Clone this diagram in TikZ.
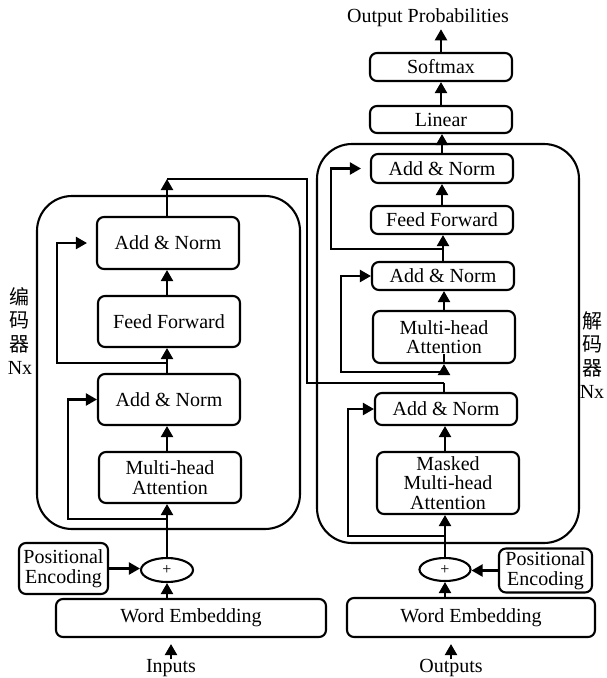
\documentclass[tikz,border=0pt]{standalone}
\usepackage{fontspec}
\setmainfont{Liberation Serif}
\newfontfamily\cjk{Noto Sans CJK SC}
\usetikzlibrary{arrows.meta,shapes.geometric}
\begin{document}
\begin{tikzpicture}[x=1pt,y=-1pt,
  lw/.style={line width=2.1pt},
  box/.style={draw,lw,rounded corners=7pt,inner sep=0pt,align=center,font=\fontsize{20}{19.5}\selectfont,minimum width=142pt},
  frame/.style={draw,lw,rounded corners=35pt,inner sep=0pt},
  conn/.style={lw,-{Triangle[length=11pt,width=12pt]}},
  lbl/.style={font=\fontsize{20}{20}\selectfont,inner sep=0pt},
  sidelbl/.style={font=\fontsize{20}{23.5}\selectfont,align=center,inner sep=0pt},
  plus/.style={draw,lw,ellipse,inner sep=0pt,minimum width=52pt,minimum height=24pt,font=\fontsize{16}{16}\selectfont}
]
\useasboundingbox (0,0) rectangle (606,678);

% frames
\node[frame,minimum width=263pt,minimum height=333pt] (encF) at (168.5,362.5) {};
\node[frame,minimum width=262pt,minimum height=399pt] (decF) at (448,343.5) {};

% encoder
\node[box,minimum height=52pt] (eAN2) at (168,243) {Add \& Norm};
\node[box,minimum height=51pt] (eFF) at (169,321.5) {Feed Forward};
\node[box,minimum height=51pt] (eAN1) at (169,399.5) {Add \& Norm};
\node[box,minimum height=51pt] (eMHA) at (170,477.5) {Multi-head\\Attention};
\node[plus] (eplus) at (167,570) {+};
\node[box,minimum width=89pt,minimum height=51pt] (ePE) at (63.5,568.5) {Positional\\Encoding};
\node[box,minimum width=270pt,minimum height=38pt] (eWE) at (191,618) {Word Embedding};
\node[lbl] (inp) at (171,668) {Inputs};
\node[sidelbl] (encL) at (20,331) {{\cjk 编}\\{\cjk 码}\\{\cjk 器}\\Nx};

% decoder
\node[lbl] (op) at (428,18) {Output Probabilities};
\node[box,minimum height=28pt] (dSM) at (441,67) {Softmax};
\node[box,minimum height=27pt] (dLin) at (441,119.5) {Linear};
\node[box,minimum height=29pt] (dAN3) at (442,168.5) {Add \& Norm};
\node[box,minimum height=28pt] (dFF) at (442,220) {Feed Forward};
\node[box,minimum height=28pt] (dAN2) at (443,276) {Add \& Norm};
\node[box,minimum height=52pt] (dMHA) at (444,337) {Multi-head\\Attention};
\node[box,minimum height=32pt] (dAN1) at (446,409) {Add \& Norm};
\node[box,minimum height=62pt] (dMM) at (448,483) {Masked\\Multi-head\\Attention};
\node[plus,minimum width=51pt,minimum height=23pt] (dplus) at (445,569.5) {+};
\node[box,minimum width=93pt,minimum height=44pt] (dPE) at (545.5,570.5) {Positional\\Encoding};
\node[box,minimum width=248pt,minimum height=39pt] (dWE) at (471,617.5) {Word Embedding};
\node[lbl] (outp) at (451,668) {Outputs};
\node[sidelbl] (decL) at (592,355) {{\cjk 解}\\{\cjk 码}\\{\cjk 器}\\Nx};

% encoder connectors
\draw[conn,shorten >=6pt] (inp.north) -- (inp.north |- eWE.south);
\draw[conn] (eWE.north -| eplus) -- (eplus.south);
\draw[conn] (ePE.east) -- (ePE.east -| eplus.west);
\draw[conn] (eplus.north) -- (eplus.north |- eMHA.south);
\draw[conn] (eplus.north |- eMHA.north) -- (eplus.north |- eAN1.south);
\draw[conn] (eplus.north |- eAN1.north) -- (eplus.north |- eFF.south);
\draw[conn] (eplus.north |- eFF.north) -- (eplus.north |- eAN2.south);
\coordinate (eOut) at (167,179);
\draw[conn] (eplus.north |- eAN2.north) -- (eOut);

\coordinate (eR1) at (167,519);
\coordinate (eR1x) at (68,519);
\draw[conn] (eR1) -- (eR1x) |- (eAN1.west);
\coordinate (eR2) at (167,363);
\coordinate (eR2x) at (57,363);
\draw[conn,shorten >=9pt] (eR2) -- (eR2x) |- (eAN2.west);

% encoder -> decoder
\coordinate (cA) at (307,179);
\coordinate (cB) at (307,383);
\coordinate (dIn) at (444,383);
\draw[lw] (eOut) -- (cA) -- (cB) -- (dIn);

% decoder connectors
\draw[conn,shorten >=6pt] (outp.north) -- (outp.north |- dWE.south);
\draw[conn] (dWE.north -| dplus) -- (dplus.south);
\draw[conn] (dPE.west) -- (dPE.west -| dplus.east);
\draw[conn] (dplus.north) -- (dplus.north |- dMM.south);
\draw[conn] (dplus.north |- dMM.north) -- (dplus.north |- dAN1.south);
\draw[conn] (dMHA.south -| dIn) -- (dMHA.south);
\draw[conn] (dMHA.north) -- (dMHA.north |- dAN2.south);
\draw[conn] (dAN2.north) -- (dAN2.north |- dFF.south);
\draw[conn] (dFF.north) -- (dFF.north |- dAN3.south);
\draw[conn] (dAN3.north) -- (dAN3.north |- dLin.south);
\draw[conn] (dLin.north) -- (dLin.north |- dSM.south);
\draw[conn,shorten >=2pt] (dSM.north) -- (dSM.north |- op.south);
\draw[lw] (dAN1.north -| dIn) -- (dIn);

\coordinate (dR1) at (445,536);
\coordinate (dR1x) at (348,536);
\draw[conn] (dR1) -- (dR1x) |- (dAN1.west);
\coordinate (dR2) at (444,372);
\coordinate (dR2x) at (341,372);
\draw[conn] (dR2) -- (dR2x) |- (dAN2.west);
\coordinate (dR3) at (442,249);
\coordinate (dR3x) at (331,249);
\draw[conn,shorten >=9pt] (dR3) -- (dR3x) |- (dAN3.west);
\end{tikzpicture}
\end{document}
